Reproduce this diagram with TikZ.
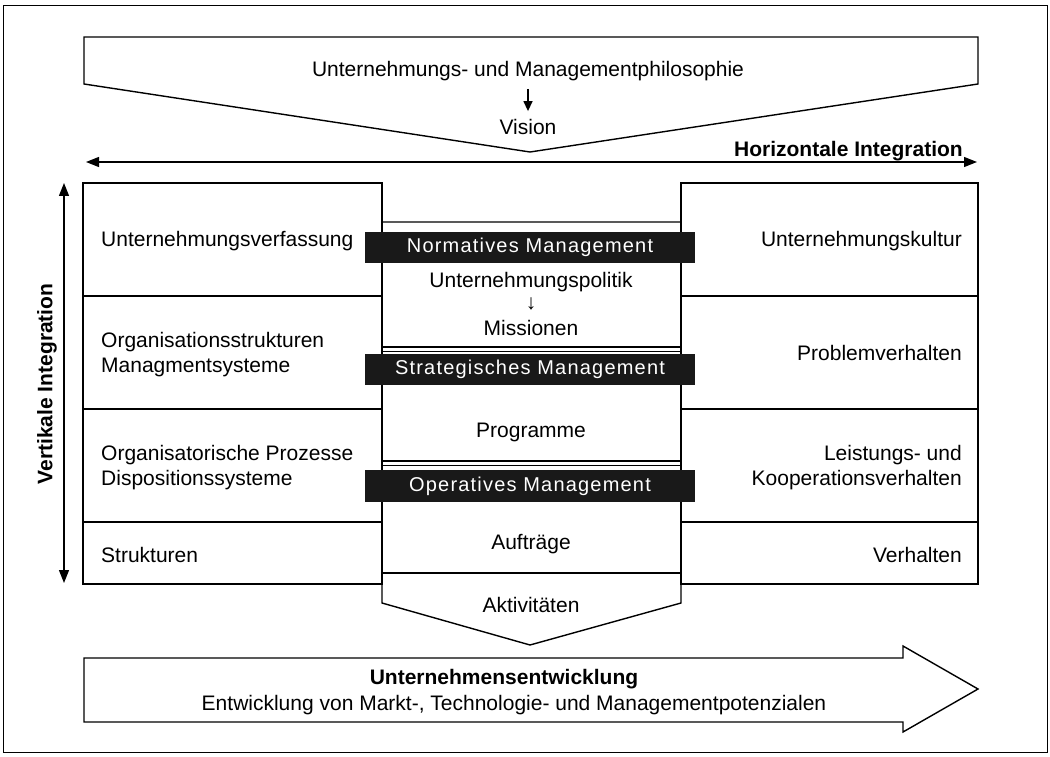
\documentclass[tikz,border=0pt]{standalone}
\usepackage{fontspec}
\setmainfont{Liberation Sans}
\newfontfamily\barfont[LetterSpace=6]{Liberation Sans}
\usetikzlibrary{arrows.meta}

\tikzset{
	frameline/.style={line width=1.4pt},
	lbl/.style={font=\fontsize{21}{25}\selectfont, inner sep=0pt},
	boldlbl/.style={font=\fontsize{21}{25}\selectfont\bfseries, inner sep=0pt},
	bar/.style={fill=black!90, minimum width=330pt, minimum height=31pt, inner sep=0pt, text=white, font=\barfont\fontsize{20}{23}\selectfont},
	intarrow/.style={line width=1.4pt, {Triangle[length=13pt,width=10pt]}-{Triangle[length=13pt,width=10pt]}}
}

\begin{document}
\begin{tikzpicture}[x=1pt, y=-1pt]

\useasboundingbox (0,0) rectangle (1050,757);
\draw[line width=1pt] (3,6) rectangle (1047,752);

% philosophy
\draw[frameline] (84,37) -- (978,37) -- (978,84) -- (530,152) -- (84,84) -- cycle;
\node[lbl] (philo) at (528,71) {Unternehmungs- und Managementphilosophie};
\node[lbl] (vision) at (528,127) {Vision};
\draw[line width=1.4pt, -{Triangle[length=10pt,width=9pt]}, shorten <=8pt, shorten >=8pt] (philo) -- (vision);

% integration arrows
\coordinate (hl) at (86,162);
\coordinate (hr) at (977,162);
\draw[intarrow] (hl) -- (hr);
\node[boldlbl, anchor=base east] (horiz) at (963,157) {Horizontale Integration};

\coordinate (vt) at (64,183);
\coordinate (vb) at (64,583);
\draw[intarrow] (vt) -- (vb);
\node[boldlbl, rotate=90] (vert) at (47,384) {Vertikale Integration};

% side boxes
\foreach \t/\b in {183/296, 296/409, 409/522, 522/584}
{
	\draw[frameline] (83,\t) rectangle (382,\b);
	\draw[frameline] (681,\t) rectangle (978,\b);
}

\node[lbl, anchor=west] (verf) at (101,241) {Unternehmungsverfassung};
\node[lbl, anchor=west, align=left] (orgstr) at (101,355) {Organisationsstrukturen\\Managmentsysteme};
\node[lbl, anchor=west, align=left] (orgproz) at (101,468) {Organisatorische Prozesse\\Dispositionssysteme};
\node[lbl, anchor=west] (strukt) at (101,555) {Strukturen};

\node[lbl, anchor=east] (kultur) at (962,241) {Unternehmungskultur};
\node[lbl, anchor=east] (problem) at (962,353) {Problemverhalten};
\node[lbl, anchor=east, align=right] (leistung) at (962,468) {Leistungs- und\ \\Kooperationsverhalten};
\node[lbl, anchor=east] (verhalten) at (962,555) {Verhalten};

% middle column
\draw[frameline] (382,222) -- (681,222) -- (681,603) -- (530,645) -- (382,603) -- cycle;
\draw[frameline] (382,347) -- (681,347);
\draw[line width=1pt] (382,351) -- (681,351);
\draw[frameline] (382,461) -- (681,461);
\draw[line width=1pt] (382,465) -- (681,465);
\draw[frameline] (382,573) -- (681,573);

\node[bar] (normativ) at (530,247.5) {Normatives Management};
\node[bar] (strategisch) at (530,369.5) {Strategisches Management};
\node[bar, minimum height=32pt] (operativ) at (530,486) {Operatives Management};

\node[lbl] (politik) at (531,282) {Unternehmungspolitik};
\node[lbl] (pfeil) at (531,304) {↓};
\node[lbl] (mission) at (531,328) {Missionen};
\node[lbl] (programm) at (531,432) {Programme};
\node[lbl] (auftrag) at (531,544) {Aufträge};
\node[lbl] (aktiv) at (531,605) {Aktivitäten};

% development arrow
\draw[frameline] (84,658) -- (903,658) -- (903,646) -- (978,689) -- (903,732) -- (903,722) -- (84,722) -- cycle;
\node[boldlbl] (entw) at (504,679) {Unternehmensentwicklung};
\node[lbl] (potenz) at (514,705) {Entwicklung von Markt-, Technologie- und Managementpotenzialen};

\end{tikzpicture}
\end{document}
